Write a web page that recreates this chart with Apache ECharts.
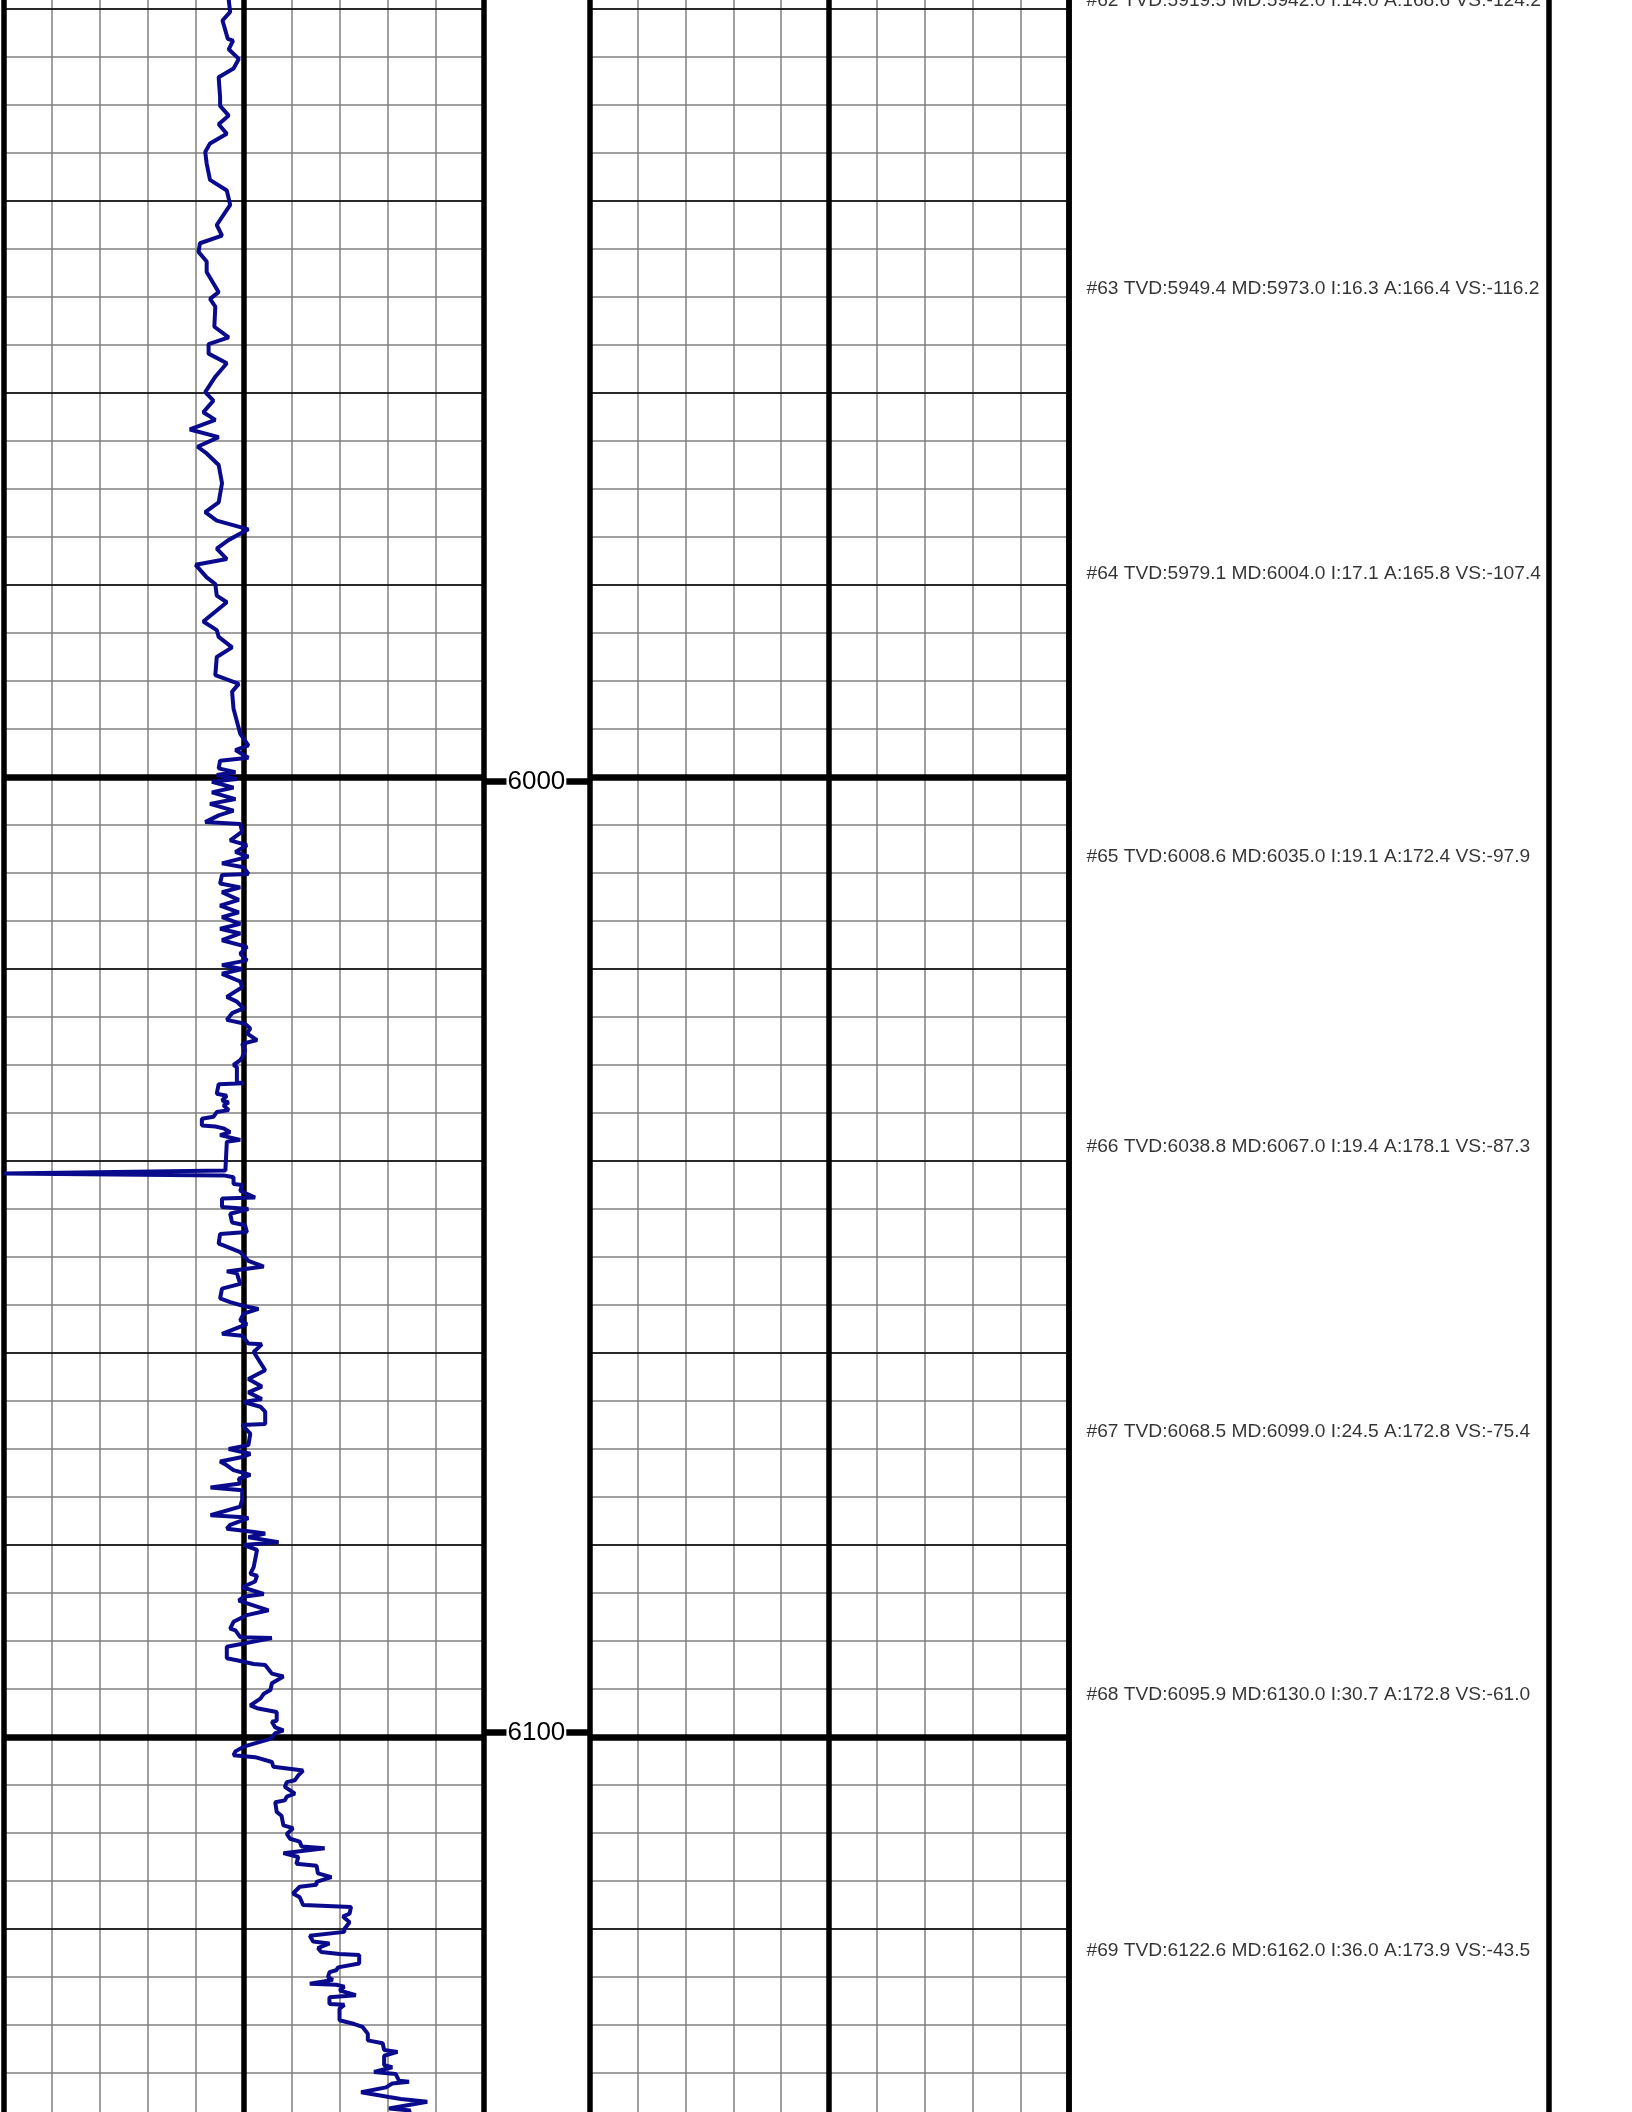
<!DOCTYPE html>
<html>
<head>
<meta charset="utf-8">
<script src="https://cdn.jsdelivr.net/npm/echarts@6/dist/echarts.min.js"></script>
<style>
html, body { margin: 0; padding: 0; width: 1632px; height: 2112px; overflow: hidden; background: #fff; }
#log { position: absolute; left: 0; top: -183.3px; width: 1632px; height: 2880px; }
</style>
</head>
<body>
<div id="log"></div>
<script>
// depth window of the whole log (only part of it is on screen)
var depthMin = 5900;
var depthMax = 6200;

// track 1 curve (depth in ft, value on a 0-100 track scale)
var curveDepth = [
  5918.5, 5919.1, 5920.3, 5921.2, 5923.1, 5923.3, 5924.2, 5925.2, 5926.2, 5927.1,
  5929.2, 5930.1, 5931.1, 5932.0, 5933.0, 5934.0, 5934.9, 5936.1, 5937.8, 5938.9,
  5940.4, 5942.5, 5943.6, 5944.4, 5945.3, 5946.3, 5947.4, 5949.5, 5950.2, 5951.0,
  5953.1, 5954.2, 5954.9, 5955.9, 5956.9, 5958.3, 5959.9, 5960.8, 5962.0, 5962.8,
  5963.8, 5964.6, 5965.6, 5966.3, 5967.5, 5969.4, 5971.4, 5972.4, 5973.3, 5974.2,
  5975.3, 5976.2, 5977.3, 5977.9, 5979.2, 5979.9, 5981.1, 5981.8, 5983.8, 5984.7,
  5985.4, 5986.5, 5987.5, 5989.4, 5990.3, 5991.1, 5992.9, 5995.5, 5996.7, 5997.2,
  5998.0, 5998.3, 5999.1, 5999.5, 5999.8, 6000.2, 6000.5, 6001.1, 6001.6, 6002.3,
  6002.8, 6003.5, 6004.0, 6004.7, 6004.9, 6005.7, 6006.6, 6007.1, 6007.8, 6008.3,
  6009.0, 6009.4, 6010.1, 6010.2, 6011.1, 6011.5, 6012.0, 6012.8, 6013.4, 6014.1,
  6014.6, 6015.3, 6015.8, 6016.3, 6017.0, 6017.7, 6018.4, 6019.1, 6019.6, 6020.0,
  6020.5, 6021.3, 6021.9, 6022.9, 6023.4, 6024.1, 6024.6, 6025.3, 6025.7, 6026.2,
  6026.7, 6027.4, 6027.8, 6028.5, 6029.2, 6029.5, 6030.0, 6030.2, 6031.8, 6031.9,
  6032.0, 6033.0, 6033.2, 6033.7, 6033.9, 6034.2, 6034.7, 6034.9, 6035.4, 6035.6,
  6036.3, 6036.4, 6036.6, 6037.0, 6037.3, 6037.8, 6038.0, 6041.0, 6041.3, 6041.5,
  6041.7, 6042.4, 6042.5, 6043.1, 6043.8, 6043.9, 6044.8, 6045.0, 6045.5, 6046.4,
  6046.7, 6047.4, 6047.6, 6048.6, 6048.8, 6049.5, 6050.4, 6051.0, 6051.5, 6051.7,
  6052.8, 6053.3, 6054.3, 6054.7, 6055.1, 6055.4, 6055.9, 6056.6, 6057.0, 6058.0,
  6058.2, 6059.0, 6059.1, 6059.9, 6061.8, 6062.7, 6063.5, 6064.1, 6064.8, 6065.1,
  6065.6, 6066.1, 6067.4, 6067.5, 6068.4, 6069.6, 6070.0, 6070.5, 6070.8, 6071.3,
  6071.7, 6072.2, 6072.7, 6073.1, 6073.6, 6074.0, 6074.3, 6075.3, 6076.0, 6076.9,
  6077.1, 6077.2, 6077.9, 6078.3, 6078.6, 6078.8, 6079.2, 6079.7, 6080.0, 6080.5,
  6082.3, 6083.0, 6083.2, 6083.8, 6084.4, 6085.1, 6085.4, 6085.8, 6086.8, 6087.3,
  6088.0, 6088.7, 6088.9, 6089.6, 6089.7, 6090.6, 6091.8, 6092.0, 6092.4, 6092.5,
  6093.4, 6093.7, 6094.4, 6095.1, 6095.5, 6096.0, 6096.7, 6097.0, 6097.4, 6098.3,
  6098.4, 6099.0, 6099.3, 6099.6, 6100.2, 6101.0, 6101.5, 6101.9, 6102.1, 6102.6,
  6103.1, 6103.5, 6104.0, 6104.5, 6104.7, 6105.2, 6105.9, 6106.2, 6106.6, 6106.8,
  6107.8, 6108.2, 6109.2, 6109.5, 6110.1, 6110.6, 6110.9, 6111.4, 6111.6, 6112.1,
  6112.5, 6113.2, 6113.4, 6114.2, 6114.6, 6115.1, 6115.4, 6115.6, 6116.3, 6116.7,
  6117.5, 6117.7, 6118.4, 6118.7, 6119.3, 6120.0, 6120.3, 6120.7, 6121.3, 6121.5,
  6122.0, 6122.4, 6122.6, 6122.7, 6123.6, 6124.0, 6124.3, 6124.5, 6125.0, 6125.3,
  6125.7, 6125.8, 6126.0, 6126.4, 6126.9, 6127.1, 6127.8, 6127.9, 6128.3, 6129.5,
  6129.9, 6130.2, 6130.9, 6131.6, 6131.9, 6132.6, 6132.8, 6133.2, 6134.2, 6134.4,
  6134.9, 6135.1, 6135.8, 6135.9, 6136.1, 6136.5, 6137.0, 6137.5, 6137.7, 6138.0,
  6138.7, 6138.9, 6139.5
];
var curveValue = [
  47.5, 46.9, 47.2, 45.6, 46.7, 47.8, 46.9, 49.0, 47.9, 44.8,
  45.1, 45.1, 46.9, 44.8, 46.5, 43.0, 42.0, 42.3, 43.0, 46.5,
  47.2, 44.4, 45.5, 40.9, 40.6, 42.3, 42.3, 44.8, 43.0, 44.1,
  43.9, 46.9, 42.7, 42.7, 46.5, 44.1, 42.0, 43.7, 41.6, 44.1,
  38.8, 44.8, 40.4, 42.3, 44.8, 45.5, 44.8, 42.0, 44.4, 51.0,
  46.9, 44.4, 46.5, 40.0, 42.3, 44.1, 44.4, 46.5, 41.6, 44.4,
  44.8, 47.6, 44.4, 44.1, 49.0, 47.6, 47.9, 49.3, 51.0, 48.3,
  51.0, 45.1, 44.8, 48.3, 44.4, 48.6, 43.4, 47.9, 43.4, 48.3,
  43.0, 47.9, 44.8, 42.0, 49.3, 49.7, 47.2, 50.7, 48.3, 51.0,
  45.5, 50.0, 51.0, 45.5, 45.1, 49.3, 45.5, 49.0, 45.1, 49.0,
  45.5, 49.3, 45.1, 49.3, 45.5, 50.7, 49.3, 50.7, 45.5, 49.7,
  45.5, 49.3, 49.7, 46.5, 48.6, 50.0, 47.6, 46.5, 50.3, 51.4,
  50.7, 52.8, 49.7, 50.3, 49.7, 49.3, 47.9, 48.6, 48.6, 50.0,
  44.8, 44.4, 46.5, 45.5, 46.9, 45.8, 46.9, 44.4, 43.7, 41.3,
  41.3, 44.1, 45.8, 47.2, 45.1, 49.3, 46.5, 46.2, 0.0, 45.8,
  47.9, 47.9, 49.7, 49.3, 52.4, 45.5, 45.5, 51.0, 47.2, 47.6,
  50.3, 50.7, 45.1, 44.8, 45.8, 49.3, 51.0, 54.2, 46.5, 48.6,
  49.3, 45.5, 45.1, 47.2, 50.0, 53.1, 50.0, 49.3, 50.7, 45.5,
  49.7, 51.0, 53.8, 52.1, 54.5, 51.0, 53.8, 51.0, 53.8, 50.0,
  53.5, 54.5, 54.5, 49.7, 51.4, 51.0, 46.9, 51.4, 50.0, 45.1,
  46.5, 47.9, 51.4, 49.0, 49.3, 43.1, 49.7, 49.7, 49.3, 43.1,
  50.0, 51.0, 47.2, 46.5, 51.4, 54.5, 51.0, 57.3, 50.0, 52.8,
  52.1, 51.4, 52.8, 52.4, 49.7, 54.2, 50.0, 49.0, 55.2, 50.7,
  47.9, 47.2, 48.3, 49.3, 55.9, 46.5, 46.5, 48.6, 52.1, 54.5,
  55.9, 58.3, 55.9, 55.6, 54.2, 53.5, 51.4, 52.8, 56.9, 56.9,
  55.9, 56.6, 58.3, 56.6, 55.6, 50.0, 48.3, 47.9, 52.4, 55.9,
  56.2, 62.4, 61.4, 60.7, 59.0, 58.6, 60.7, 59.0, 58.6, 56.6,
  56.9, 57.9, 58.3, 60.3, 59.0, 59.7, 61.7, 62.1, 66.9, 58.3,
  61.4, 61.0, 65.2, 65.5, 68.3, 65.2, 65.2, 61.7, 60.3, 61.7,
  62.4, 72.4, 72.1, 70.7, 72.1, 71.0, 71.0, 63.8, 64.5, 67.9,
  65.5, 66.2, 70.0, 74.1, 74.1, 69.7, 69.3, 67.9, 67.6, 68.6,
  63.8, 69.3, 71.0, 70.0, 73.4, 67.9, 67.9, 71.0, 70.0, 70.0,
  73.1, 74.8, 75.9, 75.9, 79.0, 79.3, 82.1, 79.3, 79.3, 81.0,
  77.2, 81.7, 82.4, 84.5, 81.0, 79.7, 74.5, 80.3, 82.8, 88.3,
  80.3, 84.8, 83.0
];

// survey stations written in the right-hand track
var stationNo = [62, 63, 64, 65, 66, 67, 68, 69];
var stationTVD = [5919.5, 5949.4, 5979.1, 6008.6, 6038.8, 6068.5, 6095.9, 6122.6];
var stationMD = [5942.0, 5973.0, 6004.0, 6035.0, 6067.0, 6099.0, 6130.0, 6162.0];
var stationInc = [14.0, 16.3, 17.1, 19.1, 19.4, 24.5, 30.7, 36.0];
var stationAzi = [168.6, 166.4, 165.8, 172.4, 178.1, 172.8, 172.8, 173.9];
var stationVS = [-124.2, -116.2, -107.4, -97.9, -87.3, -75.4, -61.0, -43.5];

var fontName = '"Liberation Sans", Arial, sans-serif';

var myChart = echarts.init(document.getElementById('log'));

function depthAxis(gridIndex, interval, color, width, z) {
    return {
        type: 'value', gridIndex: gridIndex, min: depthMin, max: depthMax,
        interval: interval, inverse: true, z: z,
        axisLine: { show: false }, axisTick: { show: false }, axisLabel: { show: false },
        splitLine: { show: interval > 0, lineStyle: { color: color, width: width } }
    };
}

function trackAxis(gridIndex, interval, color, width, z) {
    return {
        type: 'value', gridIndex: gridIndex, min: 0, max: 100, interval: interval, z: z,
        axisLine: { show: false }, axisTick: { show: false }, axisLabel: { show: false },
        splitLine: { show: true, lineStyle: { color: color, width: width } }
    };
}

var depthLabelAxis = depthAxis(1, 100, '#000', 0, 4);
depthLabelAxis.splitLine = { show: false };
depthLabelAxis.axisLabel = {
    show: true, inside: true, margin: 53, align: 'center', verticalAlign: 'middle',
    fontSize: 26, color: '#000', fontFamily: fontName,
    backgroundColor: '#fff', padding: [0, 1],
    formatter: function (v) { return String(v); }
};

option = {
    animation: false,
    backgroundColor: '#fff',
    grid: [
        { left: 3.8, width: 479.6, top: 0, bottom: 0 },
        { left: 483.4, width: 106, top: 0, bottom: 0 },
        { left: 589.4, width: 479.6, top: 0, bottom: 0 },
        { left: 1069, width: 479.6, top: 0, bottom: 0 }
    ],
    xAxis: [
        trackAxis(0, 10, '#808080', 1.5, 0),
        trackAxis(0, 50, '#000', 5.5, 2),
        { type: 'value', gridIndex: 1, min: 0, max: 100, show: false },
        trackAxis(2, 10, '#808080', 1.5, 0),
        trackAxis(2, 50, '#000', 5.5, 2),
        trackAxis(3, 100, '#000', 5.5, 2)
    ],
    yAxis: [
        depthAxis(0, 5, '#808080', 1.5, 0),
        depthAxis(0, 20, '#000', 1.5, 1),
        depthAxis(0, 100, '#000', 6.5, 2),
        depthAxis(1, 100, '#000', 6.5, 2),
        depthLabelAxis,
        depthAxis(2, 5, '#808080', 1.5, 0),
        depthAxis(2, 20, '#000', 1.5, 1),
        depthAxis(2, 100, '#000', 6.5, 2),
        depthAxis(3, 0, '#000', 0, 0)
    ],
    series: [
        {
            type: 'line',
            xAxisIndex: 0,
            yAxisIndex: 0,
            z: 10,
            showSymbol: false,
            clip: true,
            lineStyle: { color: '#0a0a8c', width: 4 },
            data: curveDepth.map(function (d, i) { return [curveValue[i], d]; })
        },
        {
            type: 'scatter',
            xAxisIndex: 5,
            yAxisIndex: 8,
            z: 10,
            symbolSize: 1,
            itemStyle: { color: 'rgba(0,0,0,0)' },
            label: {
                show: true, position: 'right', distance: 17, offset: [0, -3],
                fontSize: 19.2, color: '#000', fontFamily: fontName,
                formatter: function (p) {
                    var i = p.dataIndex;
                    return '#' + stationNo[i] + ' TVD:' + stationTVD[i].toFixed(1) +
                        ' MD:' + stationMD[i].toFixed(1) + ' I:' + stationInc[i].toFixed(1) +
                        ' A:' + stationAzi[i].toFixed(1) + ' VS:' + stationVS[i].toFixed(1);
                }
            },
            data: stationTVD.map(function (t) { return [0, t]; })
        }
    ]
};

myChart.setOption(option);
</script>
</body>
</html>
